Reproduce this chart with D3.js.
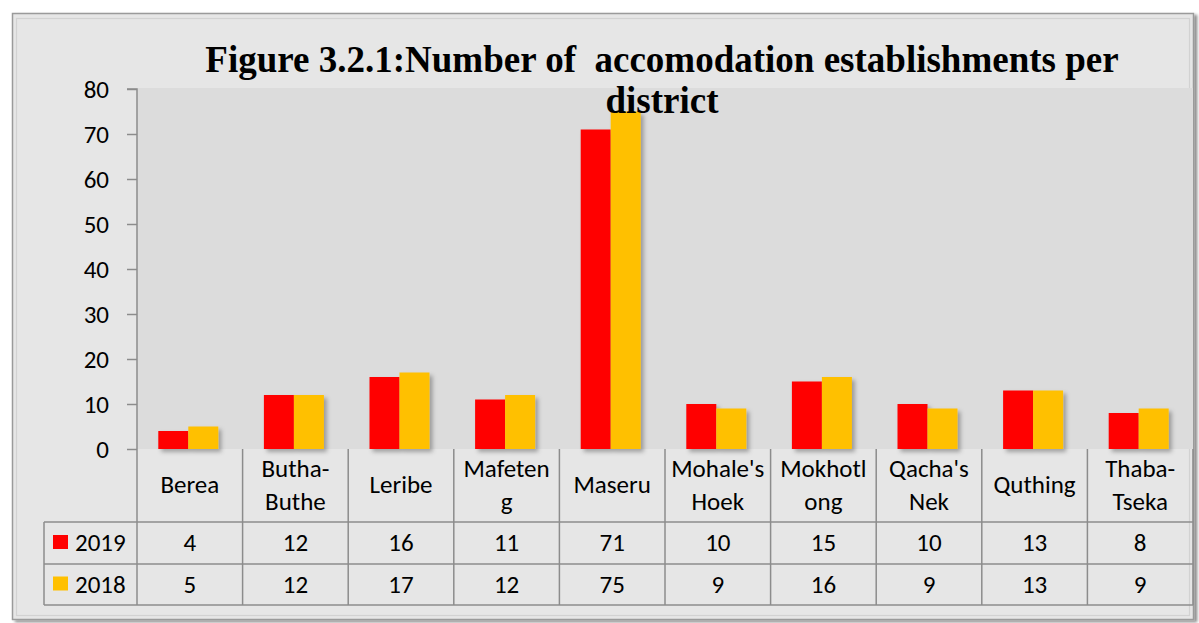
<!DOCTYPE html>
<html><head><meta charset="utf-8">
<script src="https://cdn.jsdelivr.net/npm/d3@7"></script>
<style>html,body{margin:0;padding:0;background:#fff;}svg{display:block;}</style>
</head><body>
<svg id="c" width="1199" height="623"></svg>
<script>
const categories = ["Berea","Butha-Buthe","Leribe","Mafeteng","Maseru","Mohale's Hoek","Mokhotlong","Qacha's Nek","Quthing","Thaba-Tseka"];
const categoryLines = [["Berea"],["Butha-","Buthe"],["Leribe"],["Mafeten","g"],["Maseru"],["Mohale's","Hoek"],["Mokhotl","ong"],["Qacha's","Nek"],["Quthing"],["Thaba-","Tseka"]];
const seriesNames = ["2019","2018"];
const values2019 = [4,12,16,11,71,10,15,10,13,8];
const values2018 = [5,12,17,12,75,9,16,9,13,9];
const yTicks = [0,10,20,30,40,50,60,70,80];
const titleLines = ["Figure 3.2.1:Number of  accomodation establishments per","district"];
const colors = ["#ff0000","#ffc000"];
const series = [values2019, values2018];

(function(){
const svg = d3.select("#c");
const defs = svg.append("defs");
const f = defs.append("filter").attr("id","sh").attr("x","-20%").attr("y","-20%").attr("width","150%").attr("height","150%");
f.append("feDropShadow").attr("dx",3).attr("dy",3).attr("stdDeviation",2).attr("flood-color","#000").attr("flood-opacity",0.3);
const f2 = defs.append("filter").attr("id","fsh").attr("x","-5%").attr("y","-5%").attr("width","110%").attr("height","110%");
f2.append("feDropShadow").attr("dx",3).attr("dy",2).attr("stdDeviation",1.5).attr("flood-color","#000").attr("flood-opacity",0.45);

// frame
svg.append("rect").attr("x",12.5).attr("y",13.5).attr("width",1181).attr("height",606)
  .attr("fill","#e6e6e6").attr("stroke","#9a9a9a").attr("stroke-width",1.5).attr("filter","url(#fsh)");
svg.append("rect").attr("x",16.5).attr("y",18.5).attr("width",1173).attr("height",597)
  .attr("fill","none").attr("stroke","#d2d2d2").attr("stroke-width",1.2);

const pL = 137, pR = 1193, pT = 89, pB = 449;
const x = d3.scaleBand().domain(categories).range([pL,pR]).paddingInner(0).paddingOuter(0);
const inner = d3.scaleBand().domain(seriesNames).range([0,x.bandwidth()]).paddingInner(0).paddingOuter(0.76);
const y = d3.scaleLinear().domain([0,80]).range([pB,pT]);

// plot area
svg.append("rect").attr("x",pL).attr("y",88).attr("width",pR-pL).attr("height",pB-88).attr("fill","#dcdcdc");

// bars
const g = svg.append("g").attr("filter","url(#sh)");
series.forEach((vals,si)=>{
  g.selectAll(null).data(vals).join("rect")
    .attr("x",(d,i)=>x(categories[i])+inner(seriesNames[si]) - 1.5)
    .attr("y",d=>y(d)).attr("width",inner.bandwidth()).attr("height",d=>y(0)-y(d))
    .attr("fill",colors[si]);
});

const font = "Carlito, Calibri, Lato, 'Noto Sans', sans-serif";
const fs = 25;
// y axis
const yAxis = d3.axisLeft(y).tickValues(yTicks).tickSize(10).tickPadding(18);
const ya = svg.append("g").attr("transform",`translate(${pL},0)`).call(yAxis);
ya.attr("font-family",font).attr("font-size",fs);
ya.select(".domain").attr("stroke","#8c8c8c").attr("stroke-width",1.5).attr("d",`M-10,${pT}H0V${pB}`);
ya.selectAll(".tick line").attr("stroke","#8c8c8c").attr("stroke-width",1.5);
ya.selectAll(".tick text").attr("font-family",font).attr("font-size",fs).attr("fill","#000").attr("dy","0.34em");

// table
const grid = svg.append("g").attr("stroke","#8c8c8c").attr("stroke-width",1.5).attr("fill","none");
const rowY = [pB, 522, 564, 605];
const tableLeft = 44;
grid.append("path").attr("d",`M127,${pB}H${pR}`).attr("filter","url(#sh)");
[522,564,605].forEach(yy=>grid.append("path").attr("d",`M${tableLeft},${yy}H${pR}`));
grid.append("path").attr("d",`M${tableLeft},522V605`);
categories.forEach(c=>grid.append("path").attr("d",`M${x(c)},${pB}V605`));
grid.append("path").attr("d",`M${pR},${pB}V605`);

const tg = svg.append("g").attr("font-family",font).attr("font-size",fs).attr("fill","#000").attr("text-anchor","middle");
categoryLines.forEach((lines,i)=>{
  const cx = x(categories[i]) + x.bandwidth()/2;
  const t = tg.append("text");
  if(lines.length===1){
    t.append("tspan").attr("x",cx).attr("y",493).text(lines[0]);
  } else {
    t.append("tspan").attr("x",cx).attr("y",477).text(lines[0]);
    t.append("tspan").attr("x",cx).attr("y",510).text(lines[1]);
  }
});
series.forEach((vals,si)=>{
  const cy = (rowY[si+1]+rowY[si+2])/2 + 8;
  vals.forEach((v,i)=>{
    tg.append("text").attr("x",x(categories[i])+x.bandwidth()/2).attr("y",cy).text(v);
  });
  svg.append("rect").attr("x",53).attr("y",cy-16).attr("width",15).attr("height",14).attr("fill",colors[si]);
  svg.append("text").attr("x",75).attr("y",cy).attr("font-family",font).attr("font-size",fs).text(seriesNames[si]);
});

// title
const tt = svg.append("text").attr("font-family","'Liberation Serif', 'DejaVu Serif', serif").attr("font-weight","bold")
  .attr("font-size",37).attr("text-anchor","middle").attr("fill","#000").style("white-space","pre");
tt.append("tspan").attr("x",662).attr("y",72).text(titleLines[0]);
tt.append("tspan").attr("x",662).attr("y",113).text(titleLines[1]);
})();
</script>
</body></html>
